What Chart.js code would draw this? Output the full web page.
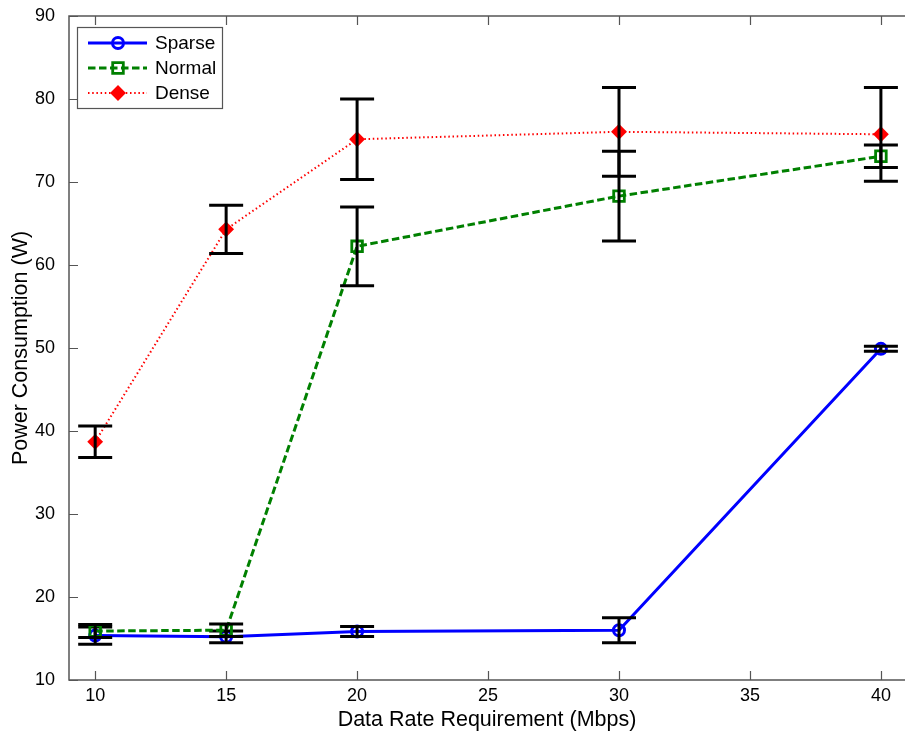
<!DOCTYPE html>
<html>
<head>
<meta charset="utf-8">
<title>Power Consumption vs Data Rate</title>
<script src="https://cdn.jsdelivr.net/npm/chart.js@4.4.1/dist/chart.umd.min.js"></script>
<style>
  html, body { margin: 0; padding: 0; background: #fff; }
  canvas { display: block; }
</style>
</head>
<body>
<canvas id="powerChart" width="905" height="740"></canvas>
<script>
// Data rate requirement (Mbps) on the x axis
const dataRates = [10, 15, 20, 30, 40];
const xTickValues = [10, 15, 20, 25, 30, 35, 40];

// Mean power consumption (W) and error half-widths per deployment
const sparsePower = [15.35, 15.2, 15.85, 16.0, 49.9];
const sparseErr   = [1.05, 0.7, 0.6, 1.5, 0.3];
const normalPower = [15.9, 16.0, 62.25, 68.3, 73.1];
const normalErr   = [0.78, 0.75, 4.75, 5.4, 1.35];
const densePower  = [38.7, 64.3, 75.15, 76.05, 75.75];
const denseErr    = [1.9, 2.9, 4.85, 5.35, 5.65];

const AXIS_COLOR = '#555555';
const FONT = '"Liberation Sans", Arial, Helvetica, sans-serif';

Chart.defaults.font.family = FONT;
Chart.defaults.color = '#000';

function toPoints(values) {
    return dataRates.map((x, i) => ({ x: x, y: values[i] }));
}

// black error bars, drawn right after each series so stacking follows series order
const errorBars = {
    id: 'errorBars',
    afterDatasetDraw(chart, args) {
        const ds = chart.data.datasets[args.index];
        if (!ds.errors) return;
        const { ctx } = chart;
        const yScale = chart.scales.y;
        const capHalf = 17;
        ctx.save();
        ctx.strokeStyle = '#000';
        ctx.lineWidth = 3;
        ctx.lineCap = 'butt';
        args.meta.data.forEach((pt, i) => {
            const v = ds.data[i].y;
            const e = ds.errors[i];
            const yTop = yScale.getPixelForValue(v + e);
            const yBot = yScale.getPixelForValue(v - e);
            ctx.beginPath();
            ctx.moveTo(pt.x, yTop);
            ctx.lineTo(pt.x, yBot);
            ctx.moveTo(pt.x - capHalf, yTop);
            ctx.lineTo(pt.x + capHalf, yTop);
            ctx.moveTo(pt.x - capHalf, yBot);
            ctx.lineTo(pt.x + capHalf, yBot);
            ctx.stroke();
        });
        ctx.restore();
    }
};

// axes box with inward tick marks
const axesFrame = {
    id: 'axesFrame',
    afterDraw(chart) {
        const { ctx, chartArea: a, scales } = chart;
        const tick = 9;
        ctx.save();
        ctx.strokeStyle = AXIS_COLOR;
        ctx.lineWidth = 1.5;
        ctx.beginPath();
        ctx.moveTo(a.right + 2, a.top);
        ctx.lineTo(a.left, a.top);
        ctx.lineTo(a.left, a.bottom);
        ctx.lineTo(a.right + 2, a.bottom);
        ctx.stroke();
        ctx.lineWidth = 1.2;
        ctx.beginPath();
        scales.x.ticks.forEach(t => {
            const px = Math.round(scales.x.getPixelForValue(t.value)) + 0.5;
            ctx.moveTo(px, a.bottom);
            ctx.lineTo(px, a.bottom - tick);
            ctx.moveTo(px, a.top);
            ctx.lineTo(px, a.top + tick);
        });
        scales.y.ticks.forEach(t => {
            const py = Math.round(scales.y.getPixelForValue(t.value)) + 0.5;
            ctx.moveTo(a.left, py);
            ctx.lineTo(a.left + tick, py);
        });
        ctx.stroke();
        ctx.restore();
    }
};

// boxed legend in the upper left corner with line + marker samples
const legendBox = {
    id: 'legendBox',
    afterDraw(chart) {
        const { ctx, chartArea: a } = chart;
        const sets = chart.data.datasets;
        const left = a.left + 8;
        const top = a.top + 11;
        const rowH = 25;
        const w = 145;
        const h = sets.length * rowH + 6;
        ctx.save();
        ctx.fillStyle = '#fff';
        ctx.fillRect(left, top, w, h);
        ctx.strokeStyle = AXIS_COLOR;
        ctx.lineWidth = 1.2;
        ctx.strokeRect(left + 0.5, top + 0.5, w, h);
        sets.forEach((ds, i) => {
            const y = top + 16 + i * rowH;
            ctx.save();
            ctx.strokeStyle = ds.borderColor;
            ctx.lineWidth = ds.borderWidth;
            ctx.setLineDash(ds.borderDash || []);
            ctx.beginPath();
            ctx.moveTo(left + 11, y);
            ctx.lineTo(left + 70, y);
            ctx.stroke();
            ctx.setLineDash([]);
            ctx.fillStyle = ds.pointBackgroundColor;
            ctx.strokeStyle = ds.pointBorderColor;
            ctx.lineWidth = ds.pointBorderWidth;
            Chart.helpers.drawPoint(ctx, {
                pointStyle: ds.pointStyle,
                radius: ds.pointRadius,
                rotation: 0,
                borderWidth: ds.pointBorderWidth
            }, left + 41, y);
            ctx.restore();
            ctx.fillStyle = '#000';
            ctx.font = '19px ' + FONT;
            ctx.textBaseline = 'middle';
            ctx.textAlign = 'left';
            ctx.fillText(ds.label, left + 78, y + 1);
        });
        ctx.restore();
    }
};

// keep the plot box fixed: no extra room for overhanging edge labels
function noEdgePadding(scale) {
    scale.paddingLeft = 0;
    scale.paddingRight = 0;
    scale.paddingTop = 0;
    scale.paddingBottom = 0;
}

new Chart(document.getElementById('powerChart'), {
    type: 'line',
    data: {
        datasets: [
            {
                label: 'Sparse',
                data: toPoints(sparsePower),
                errors: sparseErr,
                order: 3,
                borderColor: '#0000ff',
                borderWidth: 3,
                pointStyle: 'circle',
                pointRadius: 5.5,
                pointBorderWidth: 3,
                pointBorderColor: '#0000ff',
                pointBackgroundColor: 'rgba(255,255,255,0)'
            },
            {
                label: 'Normal',
                data: toPoints(normalPower),
                errors: normalErr,
                order: 2,
                borderColor: '#008000',
                borderWidth: 3,
                borderDash: [7.5, 3.5],
                pointStyle: 'rect',
                pointRadius: 7.5,
                pointBorderWidth: 2.8,
                pointBorderColor: '#008000',
                pointBackgroundColor: 'rgba(255,255,255,0)'
            },
            {
                label: 'Dense',
                data: toPoints(densePower),
                errors: denseErr,
                order: 1,
                borderColor: '#ff0000',
                borderWidth: 2,
                borderDash: [1.5, 2.7],
                pointStyle: 'rectRot',
                pointRadius: 6.5,
                pointBorderWidth: 2,
                pointBorderColor: '#ff0000',
                pointBackgroundColor: '#ff0000'
            }
        ]
    },
    options: {
        responsive: false,
        animation: false,
        devicePixelRatio: 1,
        layout: { autoPadding: false, padding: { top: 16, right: 0, bottom: 0, left: 0 } },
        elements: { line: { tension: 0 } },
        plugins: {
            legend: { display: false },
            tooltip: { enabled: false }
        },
        scales: {
            x: {
                type: 'linear',
                min: 9.0,
                max: 40.92,
                afterBuildTicks: scale => {
                    scale.ticks = xTickValues.map(v => ({ value: v }));
                },
                afterFit: scale => { scale.height = 60; noEdgePadding(scale); },
                grid: { display: false, drawTicks: false },
                border: { display: false },
                ticks: { padding: 5, font: { size: 18 }, maxRotation: 0 },
                title: {
                    display: true,
                    text: 'Data Rate Requirement (Mbps)',
                    font: { size: 21.5 },
                    padding: { top: 0, bottom: 7 }
                }
            },
            y: {
                min: 10,
                max: 90,
                afterFit: scale => { scale.width = 69; noEdgePadding(scale); },
                grid: { display: false, drawTicks: false },
                border: { display: false },
                ticks: { stepSize: 10, padding: 14, font: { size: 18 } },
                title: {
                    display: true,
                    text: 'Power Consumption (W)',
                    font: { size: 21.5 },
                    padding: { top: 8, bottom: 0 }
                }
            }
        }
    },
    plugins: [errorBars, axesFrame, legendBox]
});
</script>
</body>
</html>
